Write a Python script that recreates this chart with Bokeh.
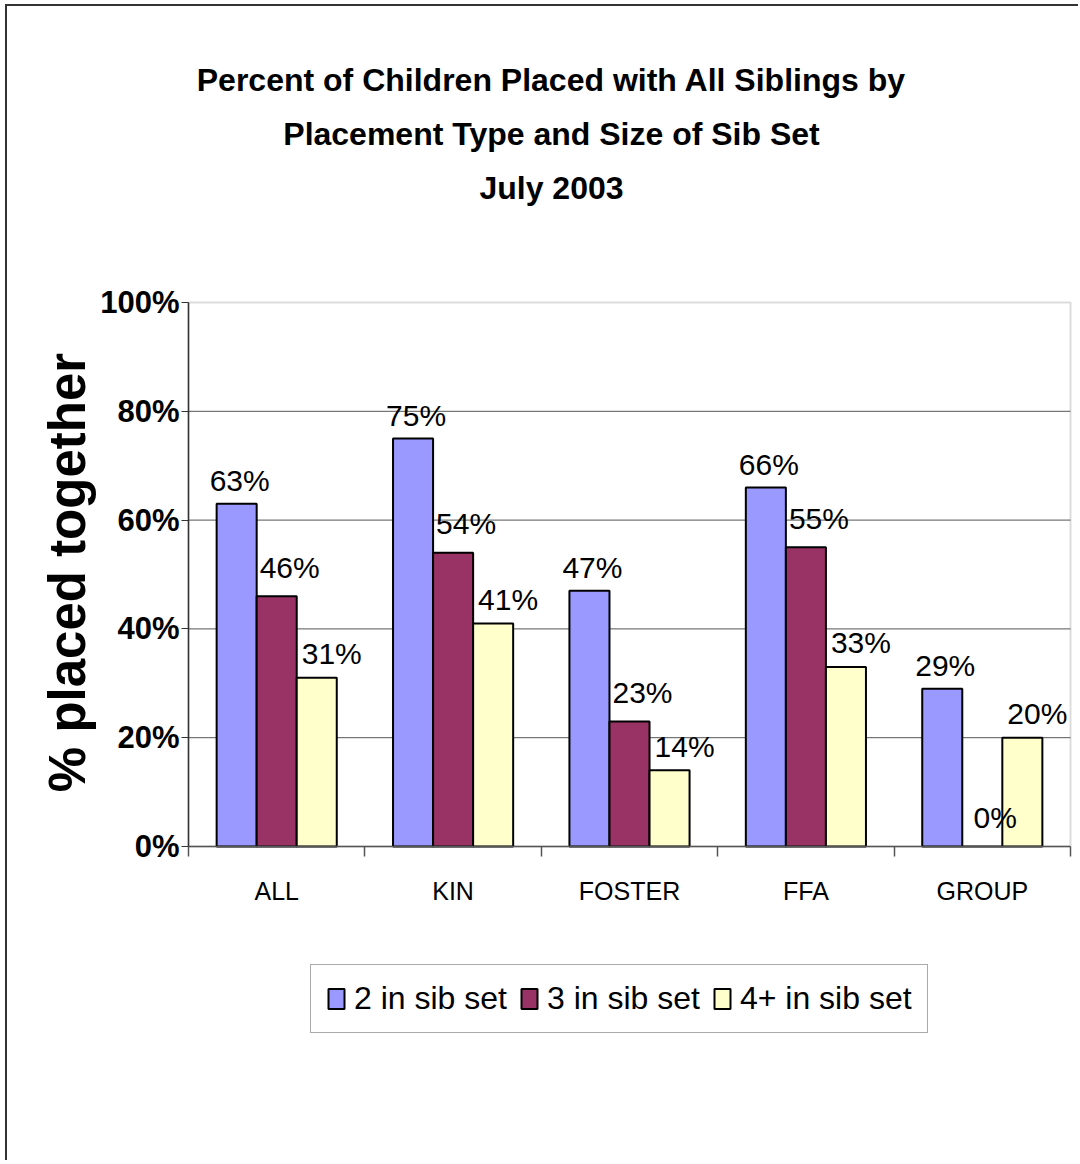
import math
from bokeh.plotting import figure
from bokeh.models import (ColumnDataSource, FixedTicker, Legend, LegendItem,
                          Label, Range1d, BoxAnnotation)
from bokeh.transform import dodge
from bokeh.embed import file_html
from bokeh.resources import INLINE
from bokeh.core.properties import value

# ---------------- data ----------------
categories = ["ALL", "KIN", "FOSTER", "FFA", "GROUP"]
series_names = ["2 in sib set", "3 in sib set", "4+ in sib set"]
two_in_set = [63, 75, 47, 66, 29]
three_in_set = [46, 54, 23, 55, 0]
four_plus_in_set = [31, 41, 14, 33, 20]
y_ticks = [0, 20, 40, 60, 80, 100]
y_tick_labels = ["0%", "20%", "40%", "60%", "80%", "100%"]
title_lines = ["Percent of Children Placed with All Siblings by",
               "Placement Type and Size of Sib Set",
               "July 2003"]
y_axis_title = "% placed together"

# ---------------- layout / styles ----------------
colors = ["#9999FF", "#993366", "#FFFFCC"]
FONT = "Liberation Sans"
BAR_W = 0.227
offsets = [-BAR_W, 0.0, BAR_W]
label_dx = [3, 13, 15]
label_dy = [-23, -29, -24]

FRAME_L, FRAME_T, FRAME_W, FRAME_H = 188, 302, 882, 544   # plot area, page px
ORIGIN_X, ORIGIN_Y = 7, 6                                   # canvas origin, page px
CANVAS_W, CANVAS_H = 1080 - ORIGIN_X, 1162 - ORIGIN_Y
X_MAX, Y_MAX = len(categories), 100

def page_to_x(px):
    return (px - FRAME_L) / FRAME_W * X_MAX

def page_to_y(py):
    return (FRAME_T + FRAME_H - py) / FRAME_H * Y_MAX

centers = [i + 0.5 for i in range(len(categories))]
boundaries = [i for i in range(len(categories) + 1)]

series_values = [two_in_set, three_in_set, four_plus_in_set]
data = dict(x=centers, cat=categories)
for k, vals in enumerate(series_values):
    data[f"s{k}"] = vals
    data[f"l{k}"] = [f"{v}%" for v in vals]
src = ColumnDataSource(data)

p = figure(width=CANVAS_W, height=CANVAS_H, min_border=0,
           x_range=Range1d(page_to_x(ORIGIN_X), page_to_x(ORIGIN_X + CANVAS_W)),
           y_range=Range1d(page_to_y(ORIGIN_Y + CANVAS_H), page_to_y(ORIGIN_Y)),
           output_backend="svg", toolbar_location=None)
p.styles = {"margin-left": "5px", "margin-top": "4px",
            "border-left": "2px solid #333333", "border-top": "2px solid #333333"}
p.background_fill_color = "white"
p.border_fill_color = "white"
p.outline_line_color = None
p.xgrid.visible = False
p.ygrid.visible = False

# plot-area border (gray, visible at top and right)
p.add_layout(BoxAnnotation(left=0, right=X_MAX, bottom=0, top=Y_MAX,
                           fill_color=None, line_color="#8c8c8c", line_width=2,
                           level="underlay"))

# horizontal gridlines across the plot area only
grid_vals = [t for t in y_ticks if 0 < t < Y_MAX]
p.segment(x0=[0] * len(grid_vals), x1=[X_MAX] * len(grid_vals),
          y0=grid_vals, y1=grid_vals, line_color="#555555", line_width=1)

renderers = []
for k in range(3):
    r = p.vbar(x=dodge("x", offsets[k]), top=f"s{k}", width=BAR_W, source=src,
               fill_color=colors[k], line_color="black", line_width=2)
    renderers.append(r)
for k in range(3):
    p.text(x=dodge("x", offsets[k]), y=f"s{k}", text=f"l{k}", source=src,
           text_font=value(FONT), text_font_size="30px", text_color="black",
           text_align="center", text_baseline="alphabetic",
           x_offset=label_dx[k], y_offset=label_dy[k])

# y axis
ya = p.yaxis[0]
ya.fixed_location = 0
ya.bounds = (0, Y_MAX)
ya.ticker = FixedTicker(ticks=y_ticks)
ya.major_label_overrides = dict(zip(y_ticks, y_tick_labels))
ya.major_label_text_font = FONT
ya.major_label_text_font_style = "bold"
ya.major_label_text_font_size = "31px"
ya.major_label_text_color = "black"
ya.major_tick_out = 7
ya.major_tick_in = 0
ya.major_tick_line_color = "#333333"
ya.minor_tick_line_color = None
ya.major_label_standoff = 2
ya.axis_line_color = "#333333"
ya.axis_line_width = 1.5

# x axis
xa = p.xaxis[0]
xa.fixed_location = 0
xa.bounds = (0, X_MAX)
xa.ticker = FixedTicker(ticks=centers, minor_ticks=boundaries)
xa.major_label_overrides = dict(zip(centers, categories))
xa.major_tick_out = 0
xa.major_tick_in = 0
xa.minor_tick_out = 10
xa.minor_tick_in = 0
xa.minor_tick_line_color = "#555555"
xa.minor_tick_line_width = 1.5
xa.axis_line_color = "#555555"
xa.axis_line_width = 1.5
xa.major_label_text_font = FONT
xa.major_label_text_font_size = "25px"
xa.major_label_text_color = "black"
xa.major_label_standoff = 20

# y axis title (rotated)
p.add_layout(Label(x=page_to_x(67), y=page_to_y(572), text=y_axis_title,
                   angle=math.pi / 2, text_font=FONT, text_font_style="bold",
                   text_font_size="51px", text_color="black",
                   text_align="center", text_baseline="middle"))

# legend
legend = Legend(items=[LegendItem(label=series_names[k], renderers=[renderers[k]])
                       for k in range(3)],
                orientation="horizontal",
                location=(310 - ORIGIN_X, ORIGIN_Y + CANVAS_H - 1033))
legend.label_text_font = FONT
legend.label_text_font_size = "32px"
legend.label_text_color = "black"
legend.glyph_width = 20
legend.glyph_height = 25
legend.label_standoff = 8
legend.spacing = 12
legend.padding = 15
legend.margin = 0
legend.border_line_color = "#555555"
legend.border_line_width = 1.5
legend.background_fill_color = "white"
p.add_layout(legend, "center")

# title
for i, line in enumerate(title_lines):
    p.add_layout(Label(x=page_to_x(551), y=page_to_y(79 + 54 * i),
                       text=line, text_font=FONT, text_font_style="bold",
                       text_font_size="32px", text_color="black",
                       text_align="center", text_baseline="alphabetic"))

open("out.html", "w").write(file_html(p, INLINE))
